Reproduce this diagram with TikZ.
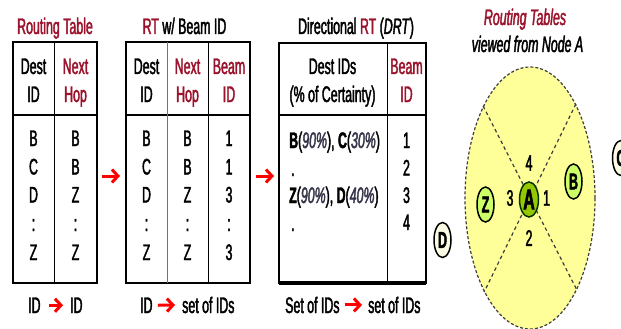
\documentclass[tikz,border=0pt]{standalone}
\usepackage{fontspec}
\setmainfont{Liberation Sans}[FakeStretch=0.55, FakeBold=1.8]
\usetikzlibrary{shapes.geometric,arrows.meta}

\definecolor{titlered}{RGB}{155,20,45}
\definecolor{pctgray}{RGB}{55,55,75}
\definecolor{zonefill}{RGB}{255,255,153}
\definecolor{hubgreen}{RGB}{150,200,0}
\definecolor{peergreen}{RGB}{204,255,102}
\definecolor{farfill}{RGB}{252,252,228}
\definecolor{dashgray}{RGB}{60,60,60}

\begin{document}
\begin{tikzpicture}[x=1pt,y=-1pt,
  lbl/.style={inner sep=0pt, font=\fontsize{22.5}{26}\selectfont},
  bl/.style={lbl, anchor=base},
  blw/.style={lbl, anchor=base west},
  hdr/.style={bl, text=titlered},
  frame/.style={line width=2pt, draw=black},
  headsep/.style={line width=2.4pt},
  coldiv/.style={line width=1pt},
  flow/.style={draw=red, line width=3pt, -{Straight Barb[length=6pt,width=13pt]}},
  zone/.style={ellipse, fill=zonefill, draw=dashgray, line width=1.2pt,
               dash pattern=on 3pt off 2pt, minimum width=130pt, minimum height=262pt, inner sep=0pt},
  beam/.style={draw=dashgray, line width=1.2pt, dash pattern=on 3.5pt off 3pt},
  bubble/.style={ellipse, draw=black, line width=1.5pt, inner sep=0pt,
                 minimum width=17pt, minimum height=35pt,
                 font=\fontsize{23}{26}\selectfont\bfseries},
]
\useasboundingbox (0,0) rectangle (621,329);

% ---------- Routing Table ----------
\node[bl, text=titlered] (t1title) at (55,34) {Routing Table};
\draw[frame] (13,42) rectangle (97,283);
\draw[headsep] (13,115) -- (97,115);
\draw[coldiv] (54,42) -- (54,283);
\node[bl] at (33.5,74) {Dest};
\node[bl] at (33.5,102) {ID};
\node[hdr] at (75.5,74) {Next};
\node[hdr] at (75.5,102) {Hop};
\foreach \d/\h/\y in {B/B/146, C/B/174.5, D/Z/202.5, :/:/231, Z/Z/260}{
  \node[bl] at (33.5,\y) {\d};
  \node[bl] at (75.5,\y) {\h};
}

% ---------- RT with beam ID ----------
\node[bl] (t2title) at (184.5,34) {{\color{titlered}RT} w/ Beam ID};
\draw[frame] (126,42) rectangle (250,283);
\draw[headsep] (126,115) -- (250,115);
\draw[coldiv, draw=black!55] (167,42) -- (167,283);
\draw[coldiv] (208,42) -- (208,283);
\node[bl] at (146.5,74) {Dest};
\node[bl] at (146.5,102) {ID};
\node[hdr] at (187.5,74) {Next};
\node[hdr] at (187.5,102) {Hop};
\node[hdr] at (229,74) {Beam};
\node[hdr] at (229,102) {ID};
\foreach \d/\h/\b/\y in {B/B/1/146, C/B/1/174.5, D/Z/3/202.5, :/:/:/231, Z/Z/3/260}{
  \node[bl] at (146.5,\y) {\d};
  \node[bl] at (187.5,\y) {\h};
  \node[bl] at (229,\y) {\b};
}

% ---------- Directional RT ----------
\node[bl] (t3title) at (356,34) {Directional {\color{titlered}RT} (\textit{DRT})};
\draw[frame] (279,43) rectangle (426,283);
\draw[line width=3.5pt] (279,283) -- (426,283);
\draw[headsep] (279,115) -- (426,115);
\draw[coldiv] (387,43) -- (387,283);
\node[bl] at (332.5,74) {Dest IDs};
\node[bl] at (332.5,102) {(\% of Certainty)};
\node[hdr] at (406.5,74) {Beam};
\node[hdr] at (406.5,102) {ID};
\node[blw] at (289,148) {\textbf{B}(\textit{\color{pctgray}90\%}), \textbf{C}(\textit{\color{pctgray}30\%})};
\node[blw] at (291,176) {.};
\node[blw] at (289,203) {\textbf{Z}(\textit{\color{pctgray}90\%}), \textbf{D}(\textit{\color{pctgray}40\%})};
\node[blw] at (291,231) {.};
\foreach \b/\y in {1/148, 2/175.5, 3/203, 4/230}{
  \node[bl] at (406.5,\y) {\b};
}

% ---------- arrows between tables ----------
\coordinate (f1s) at (102,176);
\coordinate (f1e) at (120,176);
\coordinate (f2s) at (256,176);
\coordinate (f2e) at (274,176);
\draw[flow] (f1s) -- (f1e);
\draw[flow] (f2s) -- (f2e);

% ---------- mapping captions ----------
\node[blw] (c1a) at (28,313) {ID};
\node[blw] (c1b) at (70,313) {ID};
\draw[flow] ([xshift=8pt]c1a.east) -- ([xshift=-7pt]c1b.west);

\node[blw] (c2a) at (140,313) {ID};
\node[blw] (c2b) at (182,313) {set of IDs};
\draw[flow] ([xshift=5pt]c2a.east) -- ([xshift=-7pt]c2b.west);

\node[blw] (c3a) at (285,313) {Set of IDs};
\node[blw] (c3b) at (368,313) {set of IDs};
\draw[flow] ([xshift=5pt]c3a.east) -- ([xshift=-6pt]c3b.west);

% ---------- beams around node A ----------
\node[bl, font=\fontsize{22.5}{26}\selectfont\itshape] (vtitle) at (525,25) {\color{titlered}Routing Tables};
\node[bl, font=\fontsize{22.5}{26}\selectfont\itshape] (vsub) at (527.5,52) {viewed from Node A};

\node[zone] (range) at (530,198) {};
\draw[beam] (range.117.8) -- (range.297.8);
\draw[beam] (range.64.7) -- (range.244.7);

\node[bubble, fill=hubgreen, draw=black!80!green, minimum width=19pt,
      font=\fontsize{29}{32}\selectfont\bfseries] (A) at (529,199.5) {A};
\node[bubble, fill=peergreen] (B) at (573.5,181.5) {B};
\node[bubble, fill=peergreen] (Z) at (485.5,204.5) {Z};
\node[bubble, fill=farfill] (D) at (442.5,240) {D};
\node[bubble, fill=farfill] (C) at (621,158) {C};

\node[lbl] (b4) at (529,163) {4};
\node[lbl] (b3) at (510,198) {3};
\node[lbl] (b1) at (546.5,198) {1};
\node[lbl] (b2) at (529,238) {2};
\end{tikzpicture}
\end{document}
